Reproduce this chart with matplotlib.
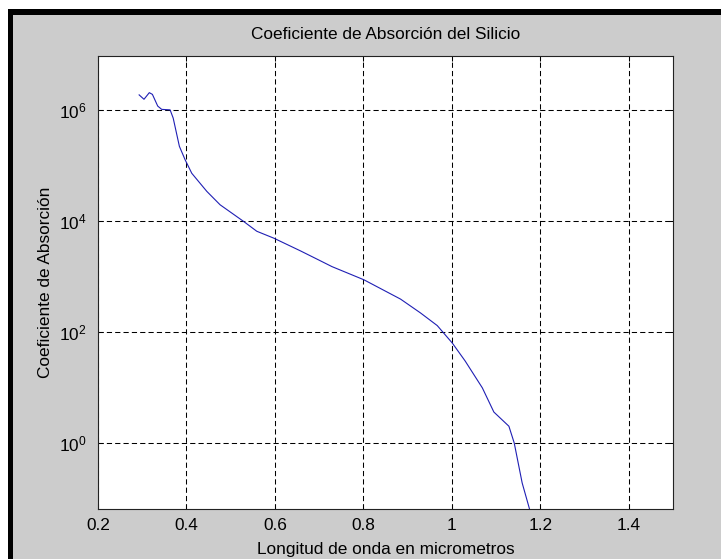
import matplotlib
matplotlib.use("Agg")
import matplotlib.pyplot as plt
from matplotlib.patches import Rectangle

# === Data ===
longitud = [0.293, 0.304, 0.316, 0.323, 0.335, 0.344, 0.363, 0.370, 0.384, 0.397,
            0.412, 0.446, 0.476, 0.529, 0.559, 0.597, 0.657, 0.695, 0.729, 0.801,
            0.884, 0.929, 0.967, 1.001, 1.030, 1.069, 1.095, 1.129, 1.141, 1.159, 1.185]
absorcion = [1.86e6, 1.55e6, 2.04e6, 1.9e6, 1.17e6, 1.02e6, 1.0e6, 7.1e5, 2.2e5, 1.26e5,
             7.2e4, 3.4e4, 1.95e4, 9.8e3, 6.5e3, 4.9e3, 2.9e3, 2.05e3, 1.5e3, 870,
             390, 220, 130, 63, 30, 9.8, 3.6, 2.0, 1.0, 0.19, 0.035]

xticks = [0.2, 0.4, 0.6, 0.8, 1.0, 1.2, 1.4]
xtick_labels = ['0.2', '0.4', '0.6', '0.8', '1', '1.2', '1.4']
yticks = [1e0, 1e2, 1e4, 1e6]
ytick_labels = ['$10^{0}$', '$10^{2}$', '$10^{4}$', '$10^{6}$']

plt.rcParams['font.family'] = ['Liberation Sans', 'DejaVu Sans']
plt.rcParams['mathtext.default'] = 'regular'
plt.rcParams['font.size'] = 12.4

W, H = 721, 559
fig = plt.figure(figsize=(W / 100, H / 100), dpi=100)
fig.patch.set_facecolor('white')

# black frame (top + left) and grey figure background
fig.add_artist(Rectangle((8 / W, -0.1), 2, 1 - 9 / H + 0.1, transform=fig.transFigure,
                         facecolor='black', edgecolor='none', zorder=-2))
fig.add_artist(Rectangle((13 / W, -0.1), 2, 1 - 15 / H + 0.1, transform=fig.transFigure,
                         facecolor='#cccccc', edgecolor='none', zorder=-1))

ax = fig.add_axes([98 / W, 1 - 509 / H, 575 / W, 453 / H])
ax.set_facecolor('white')

ax.semilogy(longitud, absorcion, color='#1f1fb4', linewidth=0.8)

ax.set_xlim(0.2, 1.5)
ax.set_ylim(10 ** -1.19, 10 ** 6.97)
ax.set_xticks(xticks)
ax.set_xticklabels(xtick_labels)
ax.set_yticks(yticks)
ax.set_yticklabels(ytick_labels)
ax.minorticks_off()

ax.tick_params(direction='in', length=3.6, width=0.75, top=True, right=True)
ax.tick_params(axis='x', pad=6.5)
ax.tick_params(axis='y', pad=8.5)
ax.grid(True, which='major', color='black', linestyle=(0, (5, 3)), linewidth=0.75)
for s in ax.spines.values():
    s.set_color('#222222')
    s.set_linewidth(0.8)

ax.set_title('Coeficiente de Absorción del Silicio', fontsize=12.4, pad=12)
ax.set_xlabel('Longitud de onda en micrometros')
ax.xaxis.set_label_coords(0.5, -0.072)
ax.set_ylabel('Coeficiente de Absorción')
ax.yaxis.set_label_coords(-0.078, 0.5)

fig.savefig('out.png', dpi=100, facecolor=fig.get_facecolor())
